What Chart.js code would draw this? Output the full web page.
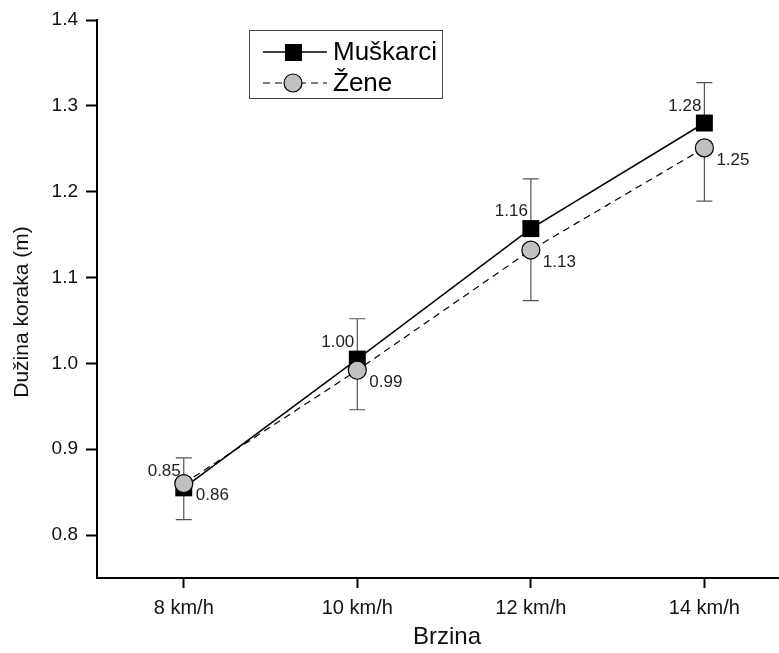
<!DOCTYPE html>
<html>
<head>
<meta charset="utf-8">
<script src="https://cdn.jsdelivr.net/npm/chart.js@4"></script>
<style>
html, body { margin: 0; padding: 0; background: #fff; }
#wrap { width: 779px; height: 653px; }
</style>
</head>
<body>
<div id="wrap"><canvas id="stepChart" width="779" height="653"></canvas></div>
<script>
// data
const speeds = ['8 km/h', '10 km/h', '12 km/h', '14 km/h'];
const menValues = [0.855, 1.005, 1.157, 1.280];
const womenValues = [0.860, 0.992, 1.132, 1.251];
const menLabels = ['0.85', '1.00', '1.16', '1.28'];
const womenLabels = ['0.86', '0.99', '1.13', '1.25'];
const menErrUp = [0.035, 0.047, 0.058, 0.047];
const womenErrDown = [0.042, 0.046, 0.059, 0.062];
const yTicks = [0.8, 0.9, 1.0, 1.1, 1.2, 1.3, 1.4];

const FONT = '"Liberation Sans", Arial, sans-serif';

const errorBars = {
    id: 'errorBars',
    beforeDatasetsDraw(chart) {
        const ctx = chart.ctx;
        const xs = chart.scales.x, ys = chart.scales.y;
        ctx.save();
        ctx.strokeStyle = '#555';
        ctx.lineWidth = 1.2;
        speeds.forEach((s, i) => {
            const x = xs.getPixelForValue(i);
            // men: upper half
            let a = ys.getPixelForValue(menValues[i]);
            let b = ys.getPixelForValue(menValues[i] + menErrUp[i]);
            ctx.beginPath();
            ctx.moveTo(x, a); ctx.lineTo(x, b);
            ctx.moveTo(x - 8, b); ctx.lineTo(x + 8, b);
            ctx.stroke();
            // women: lower half
            a = ys.getPixelForValue(womenValues[i]);
            b = ys.getPixelForValue(womenValues[i] - womenErrDown[i]);
            ctx.beginPath();
            ctx.moveTo(x, a); ctx.lineTo(x, b);
            ctx.moveTo(x - 8, b); ctx.lineTo(x + 8, b);
            ctx.stroke();
        });
        ctx.restore();
    }
};

const pointLabels = {
    id: 'pointLabels',
    afterDatasetsDraw(chart) {
        const ctx = chart.ctx;
        ctx.save();
        ctx.font = '17px ' + FONT;
        ctx.fillStyle = '#222';
        ctx.textBaseline = 'middle';
        chart.getDatasetMeta(0).data.forEach((p, i) => {
            ctx.textAlign = 'right';
            ctx.fillText(menLabels[i], p.x - 3, p.y - 17);
        });
        chart.getDatasetMeta(1).data.forEach((p, i) => {
            ctx.textAlign = 'left';
            ctx.fillText(womenLabels[i], p.x + 12, p.y + 12);
        });
        ctx.restore();
    }
};

// axis titles and legend box
const decorations = {
    id: 'decorations',
    afterDraw(chart) {
        const ctx = chart.ctx;
        ctx.save();
        ctx.fillStyle = '#111';
        ctx.textAlign = 'center';
        ctx.textBaseline = 'middle';
        ctx.font = '24px ' + FONT;
        ctx.fillText('Brzina', 447, 637);
        ctx.save();
        ctx.translate(22, 312);
        ctx.rotate(-Math.PI / 2);
        ctx.font = '21px ' + FONT;
        ctx.fillText('Dužina koraka (m)', 0, 0);
        ctx.restore();

        ctx.fillStyle = '#fff';
        ctx.fillRect(249, 30, 193, 68);
        ctx.strokeStyle = '#444';
        ctx.lineWidth = 1;
        ctx.strokeRect(249.5, 30.5, 193, 68);

        // Muškarci
        ctx.strokeStyle = '#000';
        ctx.lineWidth = 1.5;
        ctx.beginPath();
        ctx.moveTo(263, 52); ctx.lineTo(327, 52);
        ctx.stroke();
        ctx.fillStyle = '#000';
        ctx.fillRect(285, 44, 17, 17);

        // Žene
        ctx.lineWidth = 1.2;
        ctx.setLineDash([7, 5]);
        ctx.beginPath();
        ctx.moveTo(263, 83); ctx.lineTo(327, 83);
        ctx.stroke();
        ctx.setLineDash([]);
        ctx.beginPath();
        ctx.arc(293, 83, 9, 0, Math.PI * 2);
        ctx.fillStyle = '#c0c0c0';
        ctx.fill();
        ctx.stroke();

        ctx.fillStyle = '#000';
        ctx.font = '26px ' + FONT;
        ctx.textAlign = 'left';
        ctx.fillText('Muškarci', 333, 53);
        ctx.fillText('Žene', 333, 84);
        ctx.restore();
    }
};

const ctx = document.getElementById('stepChart').getContext('2d');
new Chart(ctx, {
    type: 'line',
    data: {
        datasets: [{
            label: 'Muškarci',
            data: menValues.map((v, i) => ({ x: i, y: v })),
            borderColor: '#000',
            borderWidth: 1.5,
            backgroundColor: '#000',
            pointStyle: 'rect',
            pointRadius: 12,
            pointBorderWidth: 0,
            pointBackgroundColor: '#000',
            order: 1
        }, {
            label: 'Žene',
            data: womenValues.map((v, i) => ({ x: i, y: v })),
            borderColor: '#000',
            borderWidth: 1.2,
            borderDash: [7, 5],
            pointStyle: 'circle',
            pointRadius: 9,
            pointBorderWidth: 1.2,
            pointBorderColor: '#000',
            pointBackgroundColor: '#c0c0c0',
            order: 0
        }]
    },
    options: {
        responsive: false,
        animation: false,
        devicePixelRatio: 1,
        layout: { autoPadding: false, padding: { top: 20, right: 0, left: 0, bottom: 0 } },
        plugins: {
            legend: { display: false },
            tooltip: { enabled: false }
        },
        scales: {
            x: {
                type: 'linear',
                min: -0.5,
                max: 3.43,
                afterBuildTicks: scale => { scale.ticks = speeds.map((s, i) => ({ value: i })); },
                afterFit: scale => { scale.height = 75; scale.paddingLeft = 0; scale.paddingRight = 0; },
                ticks: {
                    callback: v => speeds[v],
                    font: { family: FONT, size: 20 },
                    color: '#111',
                    padding: 8,
                    maxRotation: 0
                },
                grid: { drawOnChartArea: false, drawTicks: true, tickLength: 10, tickWidth: 2, color: '#000' },
                border: { display: true, color: '#000', width: 2 }
            },
            y: {
                min: 0.75,
                max: 1.4,
                afterBuildTicks: scale => { scale.ticks = yTicks.map(v => ({ value: v })); },
                afterFit: scale => { scale.width = 97; },
                ticks: {
                    callback: v => v.toFixed(1),
                    font: { family: FONT, size: 19 },
                    color: '#111',
                    padding: 8
                },
                grid: { drawOnChartArea: false, drawTicks: true, tickLength: 11, tickWidth: 2, color: '#000' },
                border: { display: true, color: '#000', width: 2 }
            }
        }
    },
    plugins: [errorBars, pointLabels, decorations]
});
</script>
</body>
</html>
